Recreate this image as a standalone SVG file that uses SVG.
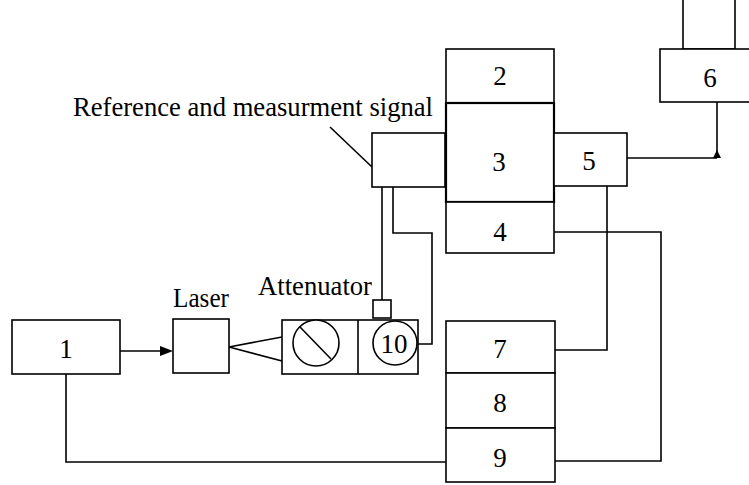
<svg xmlns="http://www.w3.org/2000/svg" width="749" height="485" viewBox="0 0 749 485">
<style>
.b{fill:#fff;stroke:#000;stroke-width:1.6}
.l{fill:none;stroke:#000;stroke-width:1.6}
.t{font-family:"Liberation Serif","Times New Roman",serif;font-size:27px;fill:#000}
.c{text-anchor:middle}
</style>
<rect width="749" height="485" fill="#fff"/>
<g id="connectors">
<line class="l" x1="120" y1="351" x2="162" y2="351"/>
<path d="M160,346 L173,351 L160,356 Z" fill="#000"/>
<polyline class="l" points="66,374 66,462 446,462"/>
<polyline class="l" points="282,337 229,347 282,361"/>
<line class="l" x1="382" y1="187" x2="382" y2="300"/>
<polyline class="l" points="393,187 393,233 432,233 432,344 417,344"/>
<line class="l" x1="330" y1="127" x2="372" y2="167"/>
<polyline class="l" points="627,158 717,158"/>
<line class="l" x1="717" y1="102" x2="717" y2="158"/>
<path d="M717,150 L721,158 L713,158 Z" fill="#000"/>
<polyline class="l" points="607,186 607,350 555,350"/>
<polyline class="l" points="554,232 661,232 661,461 555,461"/>
</g>
<g id="n1"><rect class="b" x="12" y="320" width="108" height="54"/><text class="t c" x="66" y="358">1</text></g>
<g id="laser"><rect class="b" x="173" y="319" width="56" height="54"/><text class="t" x="173" y="307" textLength="56" lengthAdjust="spacingAndGlyphs">Laser</text></g>
<g id="attenuator">
<rect class="b" x="282" y="320" width="136" height="54"/>
<line class="l" x1="358" y1="320" x2="358" y2="374"/>
<circle class="b" cx="316" cy="343" r="23"/>
<line class="l" x1="300" y1="327" x2="331" y2="359"/>
<circle class="b" cx="395" cy="343" r="22"/>
<text class="t c" x="394" y="353">10</text>
<rect class="b" x="373" y="300" width="18" height="18"/>
<text class="t" x="258" y="295" textLength="114" lengthAdjust="spacingAndGlyphs">Attenuator</text>
</g>
<g id="ref">
<rect class="b" x="372" y="133" width="73" height="54"/>
<text class="t" x="73" y="116" textLength="360" lengthAdjust="spacingAndGlyphs">Reference and measurment signal</text>
</g>
<g id="n2"><rect class="b" x="446" y="49" width="108" height="54"/><text class="t c" x="500" y="85">2</text></g>
<g id="n3"><rect class="b" x="446" y="103" width="108" height="99" style="stroke-width:2.2"/><text class="t c" x="499" y="171">3</text></g>
<g id="n4"><rect class="b" x="446" y="202" width="108" height="51"/><text class="t c" x="500" y="241">4</text></g>
<g id="n5"><rect class="b" x="554" y="133" width="73" height="53"/><text class="t c" x="589" y="170">5</text></g>
<g id="n6"><rect class="b" x="683" y="-5" width="52" height="54"/><rect class="b" x="660" y="49" width="95" height="53"/><text class="t c" x="710" y="87">6</text></g>
<g id="n7"><rect class="b" x="446" y="321" width="109" height="52"/><text class="t c" x="500" y="358">7</text></g>
<g id="n8"><rect class="b" x="446" y="373" width="109" height="55"/><text class="t c" x="500" y="412">8</text></g>
<g id="n9"><rect class="b" x="446" y="428" width="109" height="54"/><text class="t c" x="500" y="467">9</text></g>
</svg>
